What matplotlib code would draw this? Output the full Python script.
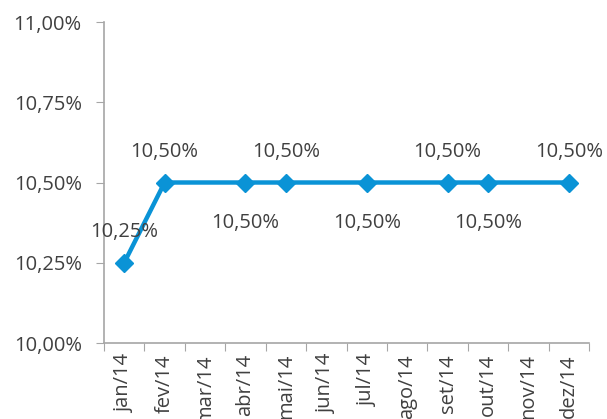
import matplotlib.pyplot as plt
import numpy as np

months = ["jan/14", "fev/14", "mar/14", "abr/14", "mai/14", "jun/14",
          "jul/14", "ago/14", "set/14", "out/14", "nov/14", "dez/14"]
# months that have a value (index into months) and the rate in %
point_idx = [0, 1, 3, 4, 6, 8, 9, 11]
rates = [10.25, 10.50, 10.50, 10.50, 10.50, 10.50, 10.50, 10.50]
label_pos = ["above", "above", "below", "above", "below", "above", "below", "above"]

color = "#0A93D6"
axis_gray = "#A6A6A6"
text_gray = "#404040"
plt.rcParams["font.family"] = ["Open Sans", "DejaVu Sans"]
fs = 14.5

fig = plt.figure(figsize=(6.07, 4.19), dpi=100)
ax = fig.add_axes([104 / 607, 1 - 343 / 419, 485 / 607, 321 / 419])

x = np.array(point_idx) + 0.5
ax.plot(x, rates, color=color, lw=3.2, marker="D", ms=9, zorder=3)

for xi, yi, pos in zip(x, rates, label_pos):
    txt = f"{yi:.2f}%".replace(".", ",")
    dy = 31 if pos == "above" else -40
    ax.annotate(txt, (xi, yi), xytext=(0, dy), textcoords="offset pixels",
                ha="center", va="center", fontsize=fs, color=text_gray)

yt = np.arange(10.0, 11.01, 0.25)
ax.set_xlim(0, 12)
ax.set_ylim(10.0, 11.0)
ax.set_yticks(yt)
ax.set_yticklabels([f"{v:.2f}%".replace(".", ",") for v in yt],
                   fontsize=fs, color=text_gray)
ax.set_xticks(np.arange(0, 13))
ax.set_xticklabels([])
ax.set_xticks(np.arange(12) + 0.5, minor=True)
ax.set_xticklabels(months, minor=True, rotation=90, fontsize=fs, color=text_gray)
ax.tick_params(axis="x", which="major", length=6, color=axis_gray, direction="out")
ax.tick_params(axis="x", which="minor", length=0, pad=8)
ax.tick_params(axis="y", length=6, color=axis_gray, pad=10)
for s in ["top", "right"]:
    ax.spines[s].set_visible(False)
for s in ["left", "bottom"]:
    ax.spines[s].set_color(axis_gray)
    ax.spines[s].set_linewidth(1.2)

fig.savefig("out.png", dpi=100)
